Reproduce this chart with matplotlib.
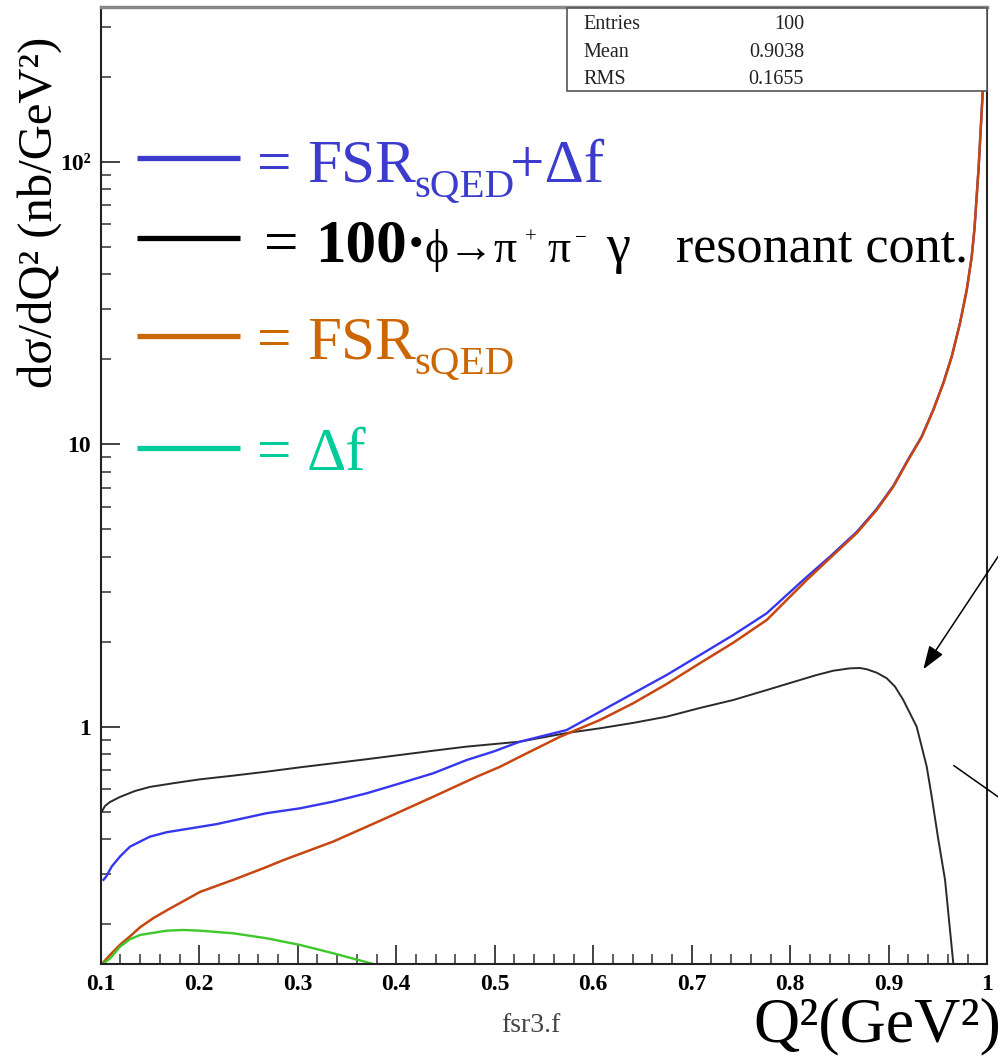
import matplotlib.pyplot as plt
from matplotlib.lines import Line2D
from matplotlib.patches import FancyArrowPatch, Rectangle
from matplotlib.ticker import LogLocator, MultipleLocator, NullFormatter

plt.rcParams["font.family"] = ["Liberation Serif", "DejaVu Serif"]

W_PX, H_PX = 998, 1060

# FSR (scalar QED), nb/GeV^2 vs Q^2 (GeV^2)
q2_fsr = [0.100, 0.1094, 0.1196, 0.1297, 0.140, 0.1534, 0.1673, 0.2008, 0.2346,
          0.2688, 0.2854, 0.336, 0.3869, 0.4376, 0.4817, 0.5053, 0.5256, 0.5662,
          0.6069, 0.6407, 0.6745, 0.7084, 0.7422, 0.7761, 0.8167, 0.8403, 0.8674,
          0.8877, 0.9046, 0.9198, 0.9334, 0.9452, 0.9553, 0.9639, 0.9723, 0.9791,
          0.9842, 0.9870, 0.9911, 0.9953, 1.0]
fsr = [0.143, 0.1555, 0.169, 0.181, 0.195, 0.210, 0.224, 0.260, 0.287,
       0.319, 0.337, 0.392, 0.470, 0.565, 0.665, 0.721, 0.783, 0.921,
       1.056, 1.211, 1.416, 1.679, 1.983, 2.386, 3.306, 3.95, 4.84,
       5.85, 7.07, 8.80, 10.6, 13.2, 16.4, 20.4, 26.8, 35.1,
       46.1, 58.0, 94.0, 175.0, 400.0]

# FSR + delta f
q2_sum = [0.1028, 0.1054, 0.1112, 0.1196, 0.1297, 0.140, 0.150, 0.167, 0.2008,
          0.2178, 0.2685, 0.3023, 0.3361, 0.370, 0.4038, 0.4376, 0.4715, 0.4985,
          0.5256, 0.5730, 0.6069, 0.6407, 0.6745, 0.7084, 0.7422, 0.7761, 0.8132,
          0.8403, 0.8674, 0.8877, 0.9046, 0.9198, 0.9334, 0.9452, 0.9553, 0.9639,
          0.9723, 0.9791, 0.9842, 0.9870, 0.9911, 0.9953, 1.0]
fsr_plus_df = [0.287, 0.294, 0.320, 0.347, 0.376, 0.392, 0.408, 0.423, 0.442,
               0.452, 0.494, 0.514, 0.543, 0.581, 0.630, 0.684, 0.762, 0.816,
               0.885, 0.973, 1.130, 1.313, 1.524, 1.794, 2.112, 2.52, 3.306,
               4.00, 4.89, 5.90, 7.12, 8.85, 10.65, 13.25, 16.45, 20.45,
               26.85, 35.15, 46.2, 58.1, 94.1, 175.1, 400.0]

# 100 x phi -> pi+ pi- gamma resonant contribution
q2_res = [0.101, 0.1044, 0.1094, 0.1196, 0.1348, 0.150, 0.1754, 0.2008, 0.2346,
          0.2685, 0.3023, 0.3361, 0.370, 0.4038, 0.4376, 0.4715, 0.5256, 0.5734,
          0.6069, 0.6404, 0.6745, 0.7084, 0.7422, 0.7764, 0.8099, 0.8268, 0.8437,
          0.8606, 0.8708, 0.8776, 0.8877, 0.8979, 0.9063, 0.9147, 0.9215, 0.9283,
          0.9334, 0.9385, 0.9436, 0.9500, 0.9571, 0.9655]
res_100 = [0.500, 0.524, 0.541, 0.564, 0.592, 0.612, 0.632, 0.651, 0.671,
           0.693, 0.718, 0.742, 0.767, 0.794, 0.822, 0.850, 0.885, 0.950,
           0.987, 1.031, 1.085, 1.165, 1.243, 1.349, 1.463, 1.524, 1.578,
           1.609, 1.613, 1.597, 1.553, 1.484, 1.386, 1.243, 1.115, 1.000,
           0.850, 0.722, 0.565, 0.404, 0.287, 0.145]

# delta f
q2_df = [0.100, 0.1094, 0.1196, 0.1297, 0.140, 0.167, 0.1839, 0.2008, 0.2346,
         0.2685, 0.3023, 0.3361, 0.3767, 0.40]
delta_f = [0.143, 0.151, 0.1664, 0.1768, 0.1831, 0.1896, 0.1907, 0.1896, 0.1856,
           0.1782, 0.1688, 0.1577, 0.1445, 0.137]

x_ticks = [0.1, 0.2, 0.3, 0.4, 0.5, 0.6, 0.7, 0.8, 0.9, 1.0]
x_tick_labels = ["0.1", "0.2", "0.3", "0.4", "0.5", "0.6", "0.7", "0.8", "0.9", "1"]
y_ticks = [1, 10, 100]
y_tick_labels = ["1", "10", "10²"]

stats_labels = ["Entries", "Mean", "RMS"]
stats_values = ["100", "0.9038", "0.1655"]

BLUE = "#3b3bcc"
ORANGE = "#cc6600"
TEAL = "#00cc99"


def fx(px):
    return px / W_PX


def fy(py):
    return 1 - py / H_PX


fig = plt.figure(figsize=(W_PX / 100, H_PX / 100), dpi=100)
ax = fig.add_axes([fx(100.7), fy(964), fx(987.3) - fx(100.7), fy(7.3) - fy(964)])

ax.plot(q2_res, res_100, color="#2a2a2a", lw=1.4)
ax.plot(q2_sum, fsr_plus_df, color="#3636ee", lw=1.7)
ax.plot(q2_fsr, fsr, color="#c8460f", lw=1.8)
ax.plot(q2_df, delta_f, color="#3ec82a", lw=1.7)

ax.set_yscale("log")
ax.set_xlim(0.1, 1.0)
ax.set_ylim(0.1445, 352)

ax.set_xticks(x_ticks, labels=x_tick_labels)
ax.xaxis.set_minor_locator(MultipleLocator(0.02))
ax.set_yticks(y_ticks, labels=y_tick_labels)
ax.yaxis.set_minor_locator(LogLocator(base=10, subs=range(2, 10)))
ax.yaxis.set_minor_formatter(NullFormatter())

ax.tick_params(which="both", direction="in", top=False, right=False, color="#333333")
ax.tick_params(which="major", length=14, width=1.3, labelsize=17, pad=7)
ax.tick_params(which="minor", length=7, width=1.1)
for lab in ax.get_xticklabels() + ax.get_yticklabels():
    lab.set_fontweight("bold")

for name, sp in ax.spines.items():
    sp.set_color("#222222")
    sp.set_linewidth(1.5)
ax.spines["top"].set_color("#888888")
ax.spines["top"].set_linewidth(2.5)

# legend: coloured strokes plus hand-set labels
for y, c in [(158.3, BLUE), (238.3, "black"), (336, ORANGE), (447.7, TEAL)]:
    fig.add_artist(Line2D([fx(137), fx(240)], [fy(y), fy(y)], color=c, lw=3.8,
                          solid_capstyle="butt"))


def put(px, base, s, size, color="black", **kw):
    fig.text(fx(px), fy(base), s, fontsize=size, color=color, va="baseline", **kw)


put(257, 181.7, "=", 44, BLUE)
put(307, 181.7, "FSR", 44, BLUE)
put(414, 197, "sQED", 29.5, BLUE)
put(510, 181.7, "+Δf", 44, BLUE)

put(264, 261.7, "=", 44)
put(315, 261.7, "100", 44, fontweight="bold")
put(406, 261.7, "·", 44, fontweight="bold")
put(424, 261.7, "ϕ→π", 33)
put(525, 243, "+", 15)
put(547, 261.7, "π", 33)
put(575, 243, "−", 15)
put(606, 261.7, "γ", 39)
put(676, 261.7, "resonant cont.", 37.5)

put(257, 358.3, "=", 44, ORANGE)
put(307, 358.3, "FSR", 44, ORANGE)
put(414, 373.6, "sQED", 29.5, ORANGE)

put(257, 470, "=", 44, TEAL)
put(307, 470, "Δf", 44, TEAL)

# statistics box
fig.add_artist(Rectangle((fx(567), fy(91)), fx(987.3) - fx(567), fy(8.3) - fy(91),
                         facecolor="white", edgecolor="#555555", lw=1.2, zorder=5))
for i, (lab, val) in enumerate(zip(stats_labels, stats_values)):
    base = 29.3 + 27.4 * i
    fig.text(fx(583), fy(base), lab, fontsize=14.5, va="baseline", zorder=6, color="#222222")
    fig.text(fx(804), fy(base), val, fontsize=14.5, ha="right", va="baseline", zorder=6,
             color="#222222")

# axis titles
fig.text(fx(40), fy(212), "dσ/dQ² (nb/GeV²)", rotation=90, ha="center", va="center",
         fontsize=35)
fig.text(fx(753), fy(1041), "Q²(GeV²)", fontsize=46, va="baseline")
fig.text(fx(531), fy(1032), "fsr3.f", fontsize=20, ha="center", va="baseline", color="#444444")

# pointers at the resonant curve
fig.add_artist(FancyArrowPatch((fx(1010), fy(538.6)), (fx(923.3), fy(669.3)),
                               transform=fig.transFigure,
                               arrowstyle="-|>,head_length=1.0,head_width=0.35",
                               mutation_scale=14.4, color="black", lw=1.1,
                               shrinkA=0, shrinkB=0))
fig.add_artist(Line2D([fx(954), fx(1010)], [fy(765.7), fy(805.2)], color="black", lw=1.1))

fig.savefig("out.png", dpi=100)
